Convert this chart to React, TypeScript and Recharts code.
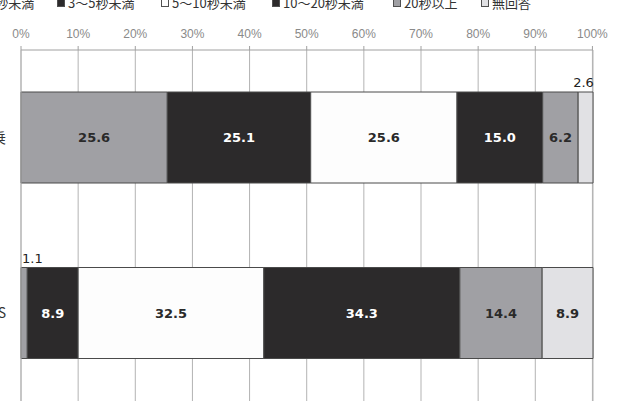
import React from 'react';
import { BarChart, Bar, XAxis, YAxis, CartesianGrid, LabelList } from 'recharts';

const categories = ['同乗', 'SNS'];
const seriesNames = ['3秒未満', '3～5秒未満', '5～10秒未満', '10～20秒未満', '20秒以上', '無回答'];
const under3 = [25.6, 1.1];
const from3to5 = [25.1, 8.9];
const from5to10 = [25.6, 32.5];
const from10to20 = [15.0, 34.3];
const over20 = [6.2, 14.4];
const noAnswer = [2.6, 8.9];
const xTicks = [0, 10, 20, 30, 40, 50, 60, 70, 80, 90, 100];

const seriesValues = [under3, from3to5, from5to10, from10to20, over20, noAnswer];
const seriesKeys = ['s0', 's1', 's2', 's3', 's4', 's5'];
const fills = ['#a0a0a4', '#2c2a2b', '#fdfdfd', '#2c2a2b', '#a0a0a4', '#e1e1e4'];
const textFills = ['#2a2a2a', '#ffffff', '#2a2a2a', '#ffffff', '#2a2a2a', '#2a2a2a'];
const legendX = [-23, 57, 161, 272, 393, 481];

const data = categories.map((cat, i) => {
  const row: Record<string, any> = { cat };
  seriesKeys.forEach((k, s) => {
    row[k] = seriesValues[s][i];
  });
  return row;
});

const makeLabel = (s: number) => (props: any) => {
  const { x, y, width, height, value } = props;
  if (value == null) return null;
  const txt = Number(value).toFixed(1);
  if (value < 3) {
    const first = s === 0;
    return (
      <text
        x={first ? x + 1 : x + width / 2 - 2}
        y={y - 5}
        textAnchor={first ? 'start' : 'middle'}
        fontFamily="DejaVu Sans"
        fontSize={13}
        fill="#222"
      >
        {txt}
      </text>
    );
  }
  return (
    <text
      x={x + width / 2}
      y={y + height / 2}
      textAnchor="middle"
      dominantBaseline="central"
      fontFamily="DejaVu Sans"
      fontWeight="bold"
      fontSize={13}
      fill={textFills[s]}
    >
      {txt}
    </text>
  );
};

export default function App() {
  return (
    <div
      style={{
        position: 'absolute',
        left: 0,
        top: 0,
        width: 624,
        height: 403,
        overflow: 'hidden',
        background: '#ffffff',
      }}
    >
      {seriesNames.map((name, s) => (
        <div
          key={name}
          style={{
            position: 'absolute',
            left: legendX[s],
            top: -4,
            height: 13,
            display: 'flex',
            alignItems: 'center',
            whiteSpace: 'nowrap',
            fontFamily: '"Noto Sans CJK JP"',
            fontSize: 13,
            lineHeight: '13px',
            color: '#333',
          }}
        >
          <span
            style={{
              display: 'inline-block',
              width: 6,
              height: 7,
              background: fills[s],
              border: '1px solid #505050',
              marginRight: 3,
            }}
          />
          <span>{name}</span>
        </div>
      ))}
      <div style={{ position: 'absolute', left: -60, top: 0 }}>
        <BarChart
          width={684}
          height={403}
          data={data}
          layout="vertical"
          margin={{ top: 0, right: 31, bottom: 2, left: 11 }}
          barSize={91}
        >
          <CartesianGrid horizontal={false} stroke="#b3b3b3" xAxisId="top" />
          <XAxis
            xAxisId="top"
            type="number"
            orientation="top"
            domain={[0, 100]}
            ticks={xTicks}
            tickFormatter={(v: number) => `${v}%`}
            height={50}
            tickSize={4}
            tickMargin={8}
            tickLine={{ stroke: '#a0a0a0' }}
            axisLine={{ stroke: '#a0a0a0' }}
            tick={{ fill: '#8a8a8a', fontSize: 12, fontFamily: 'Liberation Sans' }}
            interval={0}
          />
          <XAxis
            xAxisId="bottom"
            type="number"
            orientation="bottom"
            domain={[0, 100]}
            height={0}
            tick={false}
            tickLine={false}
            axisLine={{ stroke: '#b3b3b3' }}
          />
          <YAxis
            type="category"
            dataKey="cat"
            width={70}
            tickLine={false}
            axisLine={{ stroke: '#b3b3b3' }}
            tickMargin={9}
            tick={{ fill: '#333', fontSize: 14, fontFamily: '"Noto Sans CJK JP"' }}
          />
          {seriesKeys.map((k, s) => (
            <Bar
              key={k}
              dataKey={k}
              name={seriesNames[s]}
              stackId="a"
              xAxisId="top"
              fill={fills[s]}
              stroke="#4a4a4a"
              strokeWidth={1}
              isAnimationActive={false}
            >
              <LabelList dataKey={k} content={makeLabel(s)} />
            </Bar>
          ))}
        </BarChart>
      </div>
    </div>
  );
}
